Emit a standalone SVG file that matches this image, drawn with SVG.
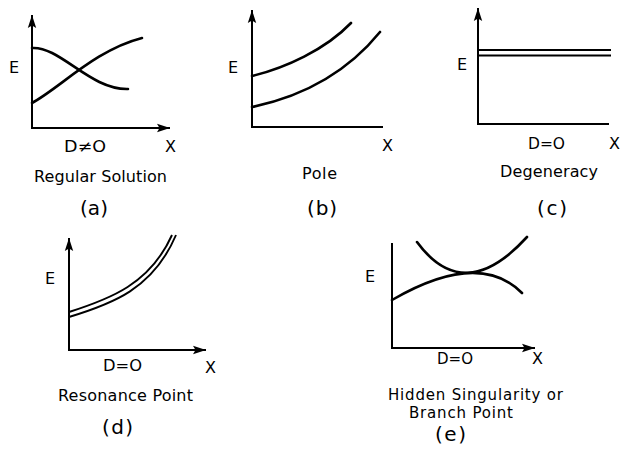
<svg xmlns="http://www.w3.org/2000/svg" width="622" height="455" viewBox="0 0 622 455">
<defs>
<marker id="arr" markerUnits="userSpaceOnUse" markerWidth="14" markerHeight="10" refX="13" refY="5" orient="auto">
<path d="M0,0.8 L13,5 L0,9.2 L2.5,5 Z" fill="#000"/>
</marker>
</defs>
<style>
.ax{fill:none;stroke:#000;stroke-width:2}
.cv{fill:none;stroke:#000;stroke-width:2.6;stroke-linecap:round}
.cd{fill:none;stroke:#000;stroke-width:1.9}
text{font-family:"DejaVu Sans","Liberation Sans",sans-serif;font-size:16px;fill:#000}
.lb{font-size:20px}
.sm{font-size:15px}
</style>
<rect width="622" height="455" fill="#fff"/>
<g id="panel-a">
<path class="ax" d="M32,128 L32,15" marker-end="url(#arr)"/>
<path class="ax" d="M31,128 L170,128" marker-end="url(#arr)"/>
<path class="cv" d="M32,48 C60,46 90,90 128,89"/>
<path class="cv" d="M32,103 C60,88 95,50 142,38"/>
<text x="9" y="73">E</text>
<text x="64" y="152" textLength="42" lengthAdjust="spacingAndGlyphs">D≠O</text>
<text x="165" y="152">X</text>
<text x="34" y="182" textLength="133" lengthAdjust="spacing">Regular Solution</text>
<text class="lb" x="80" y="215" textLength="28">(a)</text>
</g>
<g id="panel-b">
<path class="ax" d="M252,127 L252,10" marker-end="url(#arr)"/>
<path class="ax" d="M251,127 L383,127"/>
<path class="cv" d="M252,76 C285,68 325,50 351,23"/>
<path class="cv" d="M252,107 C300,97 345,75 380,32"/>
<text x="228" y="73">E</text>
<text x="382" y="151">X</text>
<text x="302" y="179" textLength="35">Pole</text>
<text class="lb" x="307" y="215" textLength="30">(b)</text>
</g>
<g id="panel-c">
<path class="ax" d="M478,124 L478,8" marker-end="url(#arr)"/>
<path class="ax" d="M477,124 L609,124"/>
<path class="cd" d="M478,50 L611,50 M478,55.5 L611,55.5"/>
<text x="457" y="70">E</text>
<text x="528" y="149" textLength="37" lengthAdjust="spacingAndGlyphs">D=O</text>
<text x="609" y="149">X</text>
<text x="500" y="177" textLength="98" lengthAdjust="spacing">Degeneracy</text>
<text class="lb" x="537" y="215" textLength="30">(c)</text>
</g>
<g id="panel-d">
<path class="ax" d="M69,350 L69,238" marker-end="url(#arr)"/>
<path class="ax" d="M68,350 L206,350" marker-end="url(#arr)"/>
<path class="cd" d="M69,312 C110,299 150,284 172,235"/>
<path class="cd" d="M69,317 C112,304 153,289 176,235"/>
<text x="45" y="284">E</text>
<text x="103" y="371" textLength="39" lengthAdjust="spacingAndGlyphs">D=O</text>
<text x="205" y="373">X</text>
<text x="58" y="401" textLength="135" lengthAdjust="spacing">Resonance Point</text>
<text class="lb" x="102" y="434" textLength="31">(d)</text>
</g>
<g id="panel-e">
<path class="ax" d="M392,348 L392,243"/>
<path class="ax" d="M391,348 L535,348" marker-end="url(#arr)"/>
<path class="cv" d="M417,242 Q464,306 527,237"/>
<path class="cv" d="M392,300 Q479,249.5 522,293"/>
<text x="365" y="282">E</text>
<text x="437" y="364" textLength="36" lengthAdjust="spacingAndGlyphs">D=O</text>
<text x="532" y="364">X</text>
<text class="sm" x="388" y="400" textLength="175" lengthAdjust="spacing">Hidden Singularity or</text>
<text class="sm" x="409" y="418" textLength="104" lengthAdjust="spacing">Branch Point</text>
<text class="lb" x="435" y="441" textLength="31">(e)</text>
</g>
</svg>
